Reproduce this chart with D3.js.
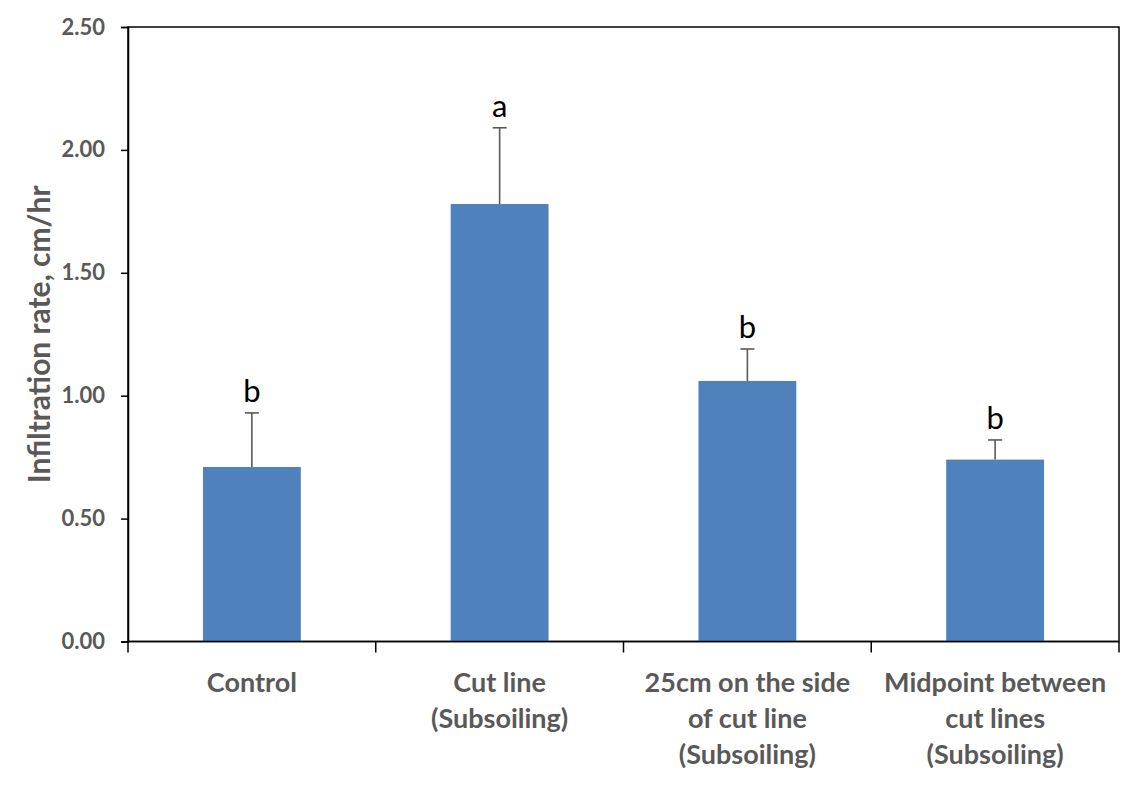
<!DOCTYPE html>
<html>
<head>
<meta charset="utf-8">
<script src="https://cdn.jsdelivr.net/npm/d3@7"></script>
<style>
  body { margin: 0; background: #fff; }
  svg text { font-family: Lato, "Open Sans", sans-serif; }
</style>
</head>
<body>
<svg id="chart" width="1133" height="790"></svg>
<script>
// treatments and measured infiltration (cm/hr)
var categories = [
	["Control"],
	["Cut line", "(Subsoiling)"],
	["25cm on the side", "of cut line", "(Subsoiling)"],
	["Midpoint between", "cut lines", "(Subsoiling)"]
];
var means = [0.71, 1.78, 1.06, 0.74];
var errors = [0.22, 0.31, 0.13, 0.08];
var letters = ["b", "a", "b", "b"];
var yTicks = [0, 0.5, 1.0, 1.5, 2.0, 2.5];

(function () {

var svg = d3.select('#chart');
// note: "top" is window.top, so keep plot edges in their own names
var plotL = 128, plotR = 1119, plotT = 27, plotB = 641.5;

var x = d3.scaleBand().domain(d3.range(categories.length)).range([plotL, plotR]).padding(0);
var y = d3.scaleLinear().domain([0, 2.5]).range([plotB, plotT]);
var barW = x.bandwidth() * 0.395;
function cx(i) { return x(i) + x.bandwidth() / 2; }

// plot frame
svg.append('rect')
	.attr('x', plotL).attr('y', plotT)
	.attr('width', plotR - plotL).attr('height', plotB - plotT)
	.attr('fill', 'none').attr('stroke', '#000').attr('stroke-width', 1.5);

// bars
svg.selectAll('.bar').data(means).enter().append('rect')
	.attr('class', 'bar')
	.attr('x', function (d, i) { return cx(i) - barW / 2; })
	.attr('y', function (d) { return y(d); })
	.attr('width', barW)
	.attr('height', function (d) { return y(0) - y(d); })
	.attr('fill', '#4F81BD');

// error bars (upper only)
var eb = svg.selectAll('.err').data(means).enter().append('g').attr('class', 'err')
	.attr('stroke', '#595959').attr('stroke-width', 1.6);
eb.append('line')
	.attr('x1', function (d, i) { return cx(i); })
	.attr('x2', function (d, i) { return cx(i); })
	.attr('y1', function (d) { return y(d); })
	.attr('y2', function (d, i) { return y(d + errors[i]); });
eb.append('line')
	.attr('x1', function (d, i) { return cx(i) - 7; })
	.attr('x2', function (d, i) { return cx(i) + 7; })
	.attr('y1', function (d, i) { return y(d + errors[i]); })
	.attr('y2', function (d, i) { return y(d + errors[i]); });

// significance letters
svg.selectAll('.sig').data(means).enter().append('text')
	.attr('class', 'sig')
	.attr('x', function (d, i) { return cx(i); })
	.attr('y', function (d, i) { return y(d + errors[i]) - 11; })
	.attr('text-anchor', 'middle')
	.attr('font-size', 31)
	.attr('fill', '#000')
	.text(function (d, i) { return letters[i]; });

// y axis
var yAxis = svg.append('g').attr('transform', 'translate(' + plotL + ',0)')
	.call(d3.axisLeft(y).tickValues(yTicks).tickFormat(d3.format('.2f')).tickSize(7).tickPadding(16));
yAxis.select('.domain').attr('stroke', '#000').attr('stroke-width', 1.5);
yAxis.selectAll('.tick line').attr('stroke', '#000').attr('stroke-width', 1.5);
yAxis.selectAll('.tick text')
	.attr('font-size', 22).attr('font-weight', 'bold').attr('fill', '#595959')
	.attr('font-family', 'Lato, sans-serif');

// x axis: ticks on band boundaries
var xAxis = svg.append('g');
xAxis.append('line')
	.attr('x1', plotL).attr('x2', plotR).attr('y1', plotB).attr('y2', plotB)
	.attr('stroke', '#000').attr('stroke-width', 1.5);
xAxis.selectAll('.xt').data(d3.range(categories.length + 1)).enter().append('line')
	.attr('x1', function (d) { return plotL + d * x.step(); })
	.attr('x2', function (d) { return plotL + d * x.step(); })
	.attr('y1', plotB).attr('y2', plotB + 11)
	.attr('stroke', '#000').attr('stroke-width', 1.5);

var lab = svg.selectAll('.xl').data(categories).enter().append('text')
	.attr('class', 'xl')
	.attr('x', function (d, i) { return cx(i); })
	.attr('y', 692)
	.attr('text-anchor', 'middle')
	.attr('font-size', 27).attr('font-weight', 'bold').attr('fill', '#595959');
lab.selectAll('tspan').data(function (d) { return d; }).enter().append('tspan')
	.attr('x', function () { return d3.select(this.parentNode).attr('x'); })
	.attr('dy', function (d, i) { return i === 0 ? 0 : 36; })
	.text(function (d) { return d; });

// y title
svg.append('text')
	.attr('transform', 'translate(50,' + ((plotT + plotB) / 2) + ') rotate(-90)')
	.attr('text-anchor', 'middle')
	.attr('font-size', 30).attr('font-weight', 'bold').attr('fill', '#595959')
	.text('Infiltration rate, cm/hr');

})();
</script>
</body>
</html>
